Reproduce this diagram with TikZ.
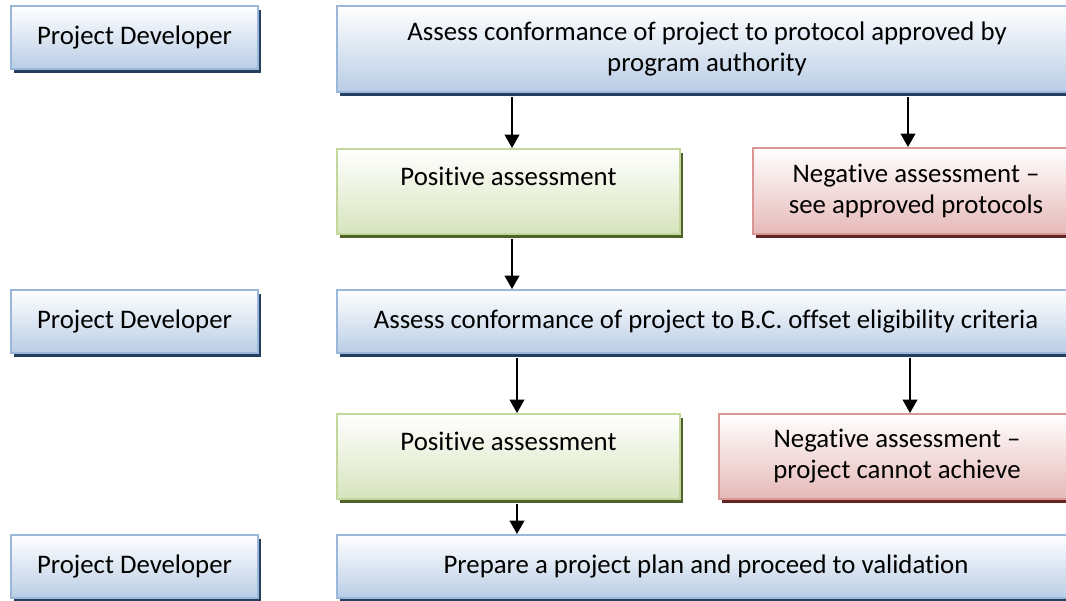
\documentclass[tikz,border=0pt]{standalone}
\usepackage{fontspec}
\setmainfont{Carlito}[Ligatures=NoCommon]
\usetikzlibrary{shadows,arrows.meta,calc}
\definecolor{bluebd}{HTML}{9BB7DA}
\definecolor{bluefl}{HTML}{B9CDE5}
\definecolor{blueshd}{HTML}{243F60}
\definecolor{greenbd}{HTML}{C3D69B}
\definecolor{greenfl}{HTML}{D7E4BD}
\definecolor{greenshd}{HTML}{4F6228}
\definecolor{redbd}{HTML}{D99694}
\definecolor{redfl}{HTML}{E6B9B8}
\definecolor{redshd}{HTML}{632523}
\begin{document}
\begin{tikzpicture}[x=0.75pt,y=-0.75pt,
  font=\fontsize{20.1}{23.25}\selectfont,
  sz/.style 2 args={minimum width=#1*0.75pt, minimum height=#2*0.75pt},
  box/.style={draw, line width=1.5pt, inner sep=0pt, anchor=north west, align=center},
  bluebox/.style={box, draw=bluebd, top color=white, bottom color=bluefl,
    drop shadow={shadow xshift=2.4pt, shadow yshift=-3pt, opacity=1, fill=blueshd}},
  greenbox/.style={box, draw=greenbd, top color=white, bottom color=greenfl,
    drop shadow={shadow xshift=2.4pt, shadow yshift=-3pt, opacity=1, fill=greenshd}},
  redbox/.style={box, draw=redbd, top color=white, bottom color=redfl,
    drop shadow={shadow xshift=2.4pt, shadow yshift=-3pt, opacity=1, fill=redshd}},
  arr/.style={-{Triangle[length=10pt,width=11pt]}, line width=1.2pt, black}]
\path[use as bounding box, clip] (0,0) rectangle (1066,600);
\fill[white] (0,0) rectangle (1066,600);

\node[bluebox, sz={247}{63}] (PD1) at (10,5) {Project Developer};
\node[bluebox, sz={740}{86}] (A) at (336,5) {Assess conformance of project to protocol approved by\\program authority};
\node[greenbox, sz={343}{85}] (G1) at (336,148) {Positive assessment\\\mbox{}};
\node[redbox, sz={326}{86}] (R1) at (752,147) {Negative assessment –\\see approved protocols};

\node[bluebox, sz={247}{63}] (PD2) at (10,289) {Project Developer};
\node[bluebox, sz={738}{63}] (B) at (336,289) {Assess conformance of project to B.C. offset eligibility criteria};
\node[greenbox, sz={343}{85}] (G2) at (336,413) {Positive assessment\\\mbox{}};
\node[redbox, sz={356}{85}] (R2) at (718,413) {Negative assessment –\\project cannot achieve};

\node[bluebox, sz={247}{63}] (PD3) at (10,534) {Project Developer};
\node[bluebox, sz={738}{63}] (C) at (336,534) {Prepare a project plan and proceed to validation};

\coordinate (c1) at (512,0);
\coordinate (c2) at (908,0);
\coordinate (c4) at (517,0);
\coordinate (c5) at (910,0);

\draw[arr] ($(A.south -| c1)+(0,4)$) -- (G1.north -| c1);
\draw[arr] ($(A.south -| c2)+(0,4)$) -- (R1.north -| c2);
\draw[arr] ($(G1.south -| c1)+(0,4)$) -- (B.north -| c1);
\draw[arr] ($(B.south -| c4)+(0,4)$) -- (G2.north -| c4);
\draw[arr] ($(B.south -| c5)+(0,4)$) -- (R2.north -| c5);
\draw[arr] ($(G2.south -| c4)+(0,4)$) -- (C.north -| c4);
\end{tikzpicture}
\end{document}
